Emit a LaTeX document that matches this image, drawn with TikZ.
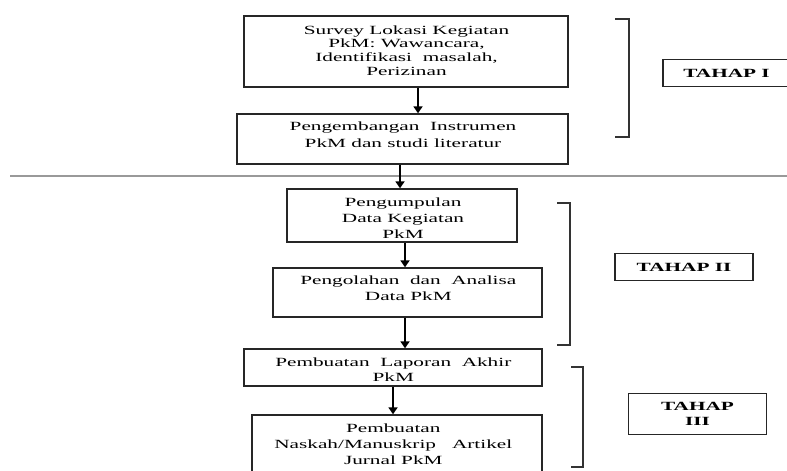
\documentclass[tikz,border=0pt]{standalone}
\usepackage{fontspec}
\setmainfont{Liberation Serif}[FakeStretch=1.7]
\usetikzlibrary{arrows.meta}
\begin{document}
\begin{tikzpicture}[x=1pt,y=-1pt,
  box/.style={draw=black!85, line width=1.4pt, inner sep=0pt},
  txt/.style={align=center, inner sep=0pt, text=black},
  tahap/.style={draw=black!85, line width=1.4pt, inner sep=0pt, align=center,
    font=\bfseries\fontsize{12.5}{15.5}\selectfont},
  arr/.style={line width=1.8pt, -{Triangle[length=7pt,width=9pt]}},
  brk/.style={line width=2pt, draw=black!80},
  sep/.style={draw=black!40, line width=1.2pt}]
\useasboundingbox (0,0) rectangle (787,471);

% horizontal separator
\coordinate (sepL) at (10,176);
\coordinate (sepR) at (787,176);
\draw[sep] (sepL) -- (sepR);

% process boxes
\node[box, minimum width=324pt, minimum height=71pt] (b1) at (406,51.5) {};
\node[txt, font=\fontsize{12.5}{13.7}\selectfont] (t1) at (406.5,50.5)
  {Survey Lokasi Kegiatan\\PkM: Wawancara,\\Identifikasi~ masalah,\\Perizinan};

\node[box, minimum width=331pt, minimum height=50pt] (b2) at (402.5,139) {};
\node[txt, font=\fontsize{12.5}{16.7}\selectfont] (t2) at (403,135)
  {Pengembangan~ Instrumen\\PkM dan studi literatur};

\node[box, minimum width=230pt, minimum height=53pt] (b3) at (402,215.5) {};
\node[txt, font=\fontsize{12.5}{16.3}\selectfont] (t3) at (403,218)
  {Pengumpulan\\Data Kegiatan\\PkM};

\node[box, minimum width=269pt, minimum height=49pt] (b4) at (407.5,292.5) {};
\node[txt, font=\fontsize{12.5}{16.7}\selectfont] (t4) at (408.3,288.3)
  {Pengolahan~ dan~ Analisa\\Data PkM};

\node[box, minimum width=298pt, minimum height=37pt] (b5) at (393,367.5) {};
\node[txt, font=\fontsize{12.5}{15}\selectfont] (t5) at (393.3,369.2)
  {Pembuatan~ Laporan~ Akhir\\PkM};

\node[box, minimum width=290pt, minimum height=70pt] (b6) at (397,450) {};
\node[txt, font=\fontsize{12.5}{15.8}\selectfont] (t6) at (393.3,444.2)
  {Pembuatan\\Naskah/Manuskrip~~ Artikel\\Jurnal PkM};

% arrows
\draw[arr] (418,0 |- b1.south) -- (418,0 |- b2.north);
\draw[arr] (400,0 |- b2.south) -- (400,0 |- b3.north);
\draw[arr] (405,0 |- b3.south) -- (405,0 |- b4.north);
\draw[arr] (405,0 |- b4.south) -- (405,0 |- b5.north);
\draw[arr] (393,0 |- b5.south) -- (393,0 |- b6.north);

% brackets
\draw[brk] (615,19.3) -- (629,19.3) -- (629,136.7) -- (615,136.7);
\draw[brk] (557,203) -- (570,203) -- (570,345) -- (557,345);
\draw[brk] (571,367.3) -- (582.5,367.3) -- (582.5,467.3) -- (571,467.3);

% stage labels
\node[tahap, minimum width=127pt, minimum height=27.4pt] (s1) at (726.5,73) {TAHAP I};
\node[tahap, minimum width=138pt, minimum height=27.4pt] (s2) at (684,267) {TAHAP II};
\node[tahap, minimum width=138.4pt, minimum height=41pt] (s3) at (697.5,413.8) {TAHAP\\III};
\end{tikzpicture}
\end{document}
